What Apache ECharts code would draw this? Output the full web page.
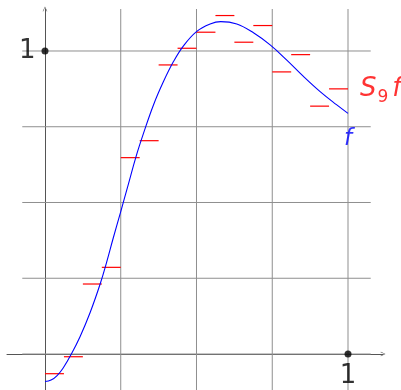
<!DOCTYPE html>
<html>
<head>
<meta charset="utf-8">
<script src="https://cdn.jsdelivr.net/npm/echarts@6/dist/echarts.min.js"></script>
<style>
  html, body { margin: 0; padding: 0; background: #ffffff; }
  #chart { width: 401px; height: 390px; }
</style>
</head>
<body>
<div id="chart"></div>
<script>
// Samples of the function f on [0, 1]
const fX = [0, 0.02, 0.04, 0.06, 0.087, 0.116, 0.149, 0.182, 0.204, 0.225, 0.25, 0.275, 0.3, 0.325, 0.358,
            0.391, 0.424, 0.457, 0.5, 0.545, 0.58, 0.633, 0.688, 0.743, 0.798, 0.852, 0.908, 0.963, 1];
const fY = [-0.091, -0.086, -0.071, -0.046, 0.0, 0.058, 0.137, 0.231, 0.305, 0.382, 0.47, 0.56, 0.65, 0.728, 0.822,
            0.899, 0.965, 1.017, 1.064, 1.089, 1.097, 1.089, 1.060, 1.020, 0.970, 0.917, 0.866, 0.822, 0.794];

// Step approximation S9 f: one constant value on each of the 16 dyadic intervals of [0, 1]
const stepValues = [-0.065, -0.009, 0.231, 0.286, 0.648, 0.704, 0.954, 1.009,
                    1.062, 1.117, 1.029, 1.084, 0.931, 0.988, 0.818, 0.875];

// Grid positions and the marked unit points on the axes
const gridXs = [0.25, 0.5, 0.75, 1];
const gridYs = [0, 0.25, 0.5, 0.75, 1];
const unitPoints = [[0, 1], [1, 0]];
const unitLabels = ['1', '1'];

// Visible window of the plane
const X_MIN = -0.1254, X_MAX = 1.1155;
const Y_MIN = -0.1188, Y_MAX = 1.1386;
const H_FROM = -0.075, H_TO = 1.075;

const FONT = '"DejaVu Sans", sans-serif';
const chevron = 'path://M0,10 L5,0 L10,10 L9,10.8 L5,2.2 L1,10.8 Z';

// segment rows: [xStart, yStart, xEnd, yEnd]
const gridSegments = [
  ...gridXs.map(x => [x, Y_MIN, x, Y_MAX]),
  ...gridYs.map(y => [H_FROM, y, H_TO, y])
];
const n = stepValues.length;
const stepSegments = stepValues.map((v, k) => [k / n, v, (k + 1) / n, v]);

function segmentRenderer(color, width) {
  return function (params, api) {
    const a = api.coord([api.value(0), api.value(1)]);
    const b = api.coord([api.value(2), api.value(3)]);
    return {
      type: 'line',
      shape: { x1: a[0], y1: a[1], x2: b[0], y2: b[1] },
      style: { stroke: color, lineWidth: width, fill: null }
    };
  };
}

const chart = echarts.init(document.getElementById('chart'), null, { renderer: 'canvas' });

chart.setOption({
  animation: false,
  backgroundColor: '#ffffff',
  grid: { left: 7, right: 18, top: 9, bottom: 0, containLabel: false, outerBoundsMode: 'none' },
  xAxis: {
    type: 'value', min: X_MIN, max: X_MAX,
    splitLine: { show: false }, axisTick: { show: false }, axisLabel: { show: false },
    axisLine: {
      show: true, onZero: true,
      symbol: ['none', chevron], symbolSize: [9, 5],
      lineStyle: { color: '#555555', width: 1 }
    }
  },
  yAxis: {
    type: 'value', min: Y_MIN, max: Y_MAX,
    splitLine: { show: false }, axisTick: { show: false }, axisLabel: { show: false },
    axisLine: {
      show: true, onZero: true,
      symbol: ['none', chevron], symbolSize: [9, 5],
      lineStyle: { color: '#555555', width: 1 }
    }
  },
  series: [
    {
      name: 'grid',
      type: 'custom',
      silent: true,
      z: 1,
      encode: { x: [0, 2], y: [1, 3] },
      renderItem: segmentRenderer('#8f8f8f', 1),
      data: gridSegments
    },
    {
      name: 'S9 f',
      type: 'custom',
      silent: true,
      z: 3,
      encode: { x: [0, 2], y: [1, 3] },
      renderItem: segmentRenderer('#ff0000', 1.2),
      data: stepSegments
    },
    {
      name: 'f',
      type: 'line',
      z: 4,
      smooth: 0.4,
      showSymbol: false,
      lineStyle: { color: '#0000ff', width: 1.1 },
      data: fX.map((x, i) => [x, fY[i]])
    },
    {
      name: 'names',
      type: 'scatter',
      z: 5,
      silent: true,
      symbolSize: 0,
      data: [
        {
          value: [fX[fX.length - 1], fY[fY.length - 1]],
          label: {
            show: true, position: 'bottom', distance: 14,
            formatter: 'f',
            color: '#0000ff', fontSize: 23, fontStyle: 'italic', fontFamily: FONT
          }
        },
        {
          value: [1, stepValues[n - 1]],
          label: {
            show: true, position: 'right', distance: 12,
            formatter: '{s|S}{sub|9}{s2|f}',
            rich: {
              s: { color: '#ff0000', fontSize: 26, lineHeight: 26, fontStyle: 'italic', fontFamily: FONT, verticalAlign: 'top' },
              sub: { color: '#ff0000', fontSize: 17, lineHeight: 17, fontFamily: FONT, verticalAlign: 'top', padding: [13, 0, 0, 1] },
              s2: { color: '#ff0000', fontSize: 26, lineHeight: 26, fontStyle: 'italic', fontFamily: FONT, verticalAlign: 'top', padding: [0, 0, 0, 4] }
            }
          }
        }
      ]
    },
    {
      name: 'unit points',
      type: 'scatter',
      z: 6,
      silent: true,
      symbolSize: 7,
      itemStyle: { color: '#000000' },
      data: unitPoints.map((p, i) => ({
        value: p,
        label: {
          show: true,
          position: p[0] === 0 ? 'left' : 'bottom',
          distance: 6,
          formatter: unitLabels[i],
          color: '#000000', fontSize: 26, fontFamily: FONT
        }
      }))
    }
  ]
});
</script>
</body>
</html>
